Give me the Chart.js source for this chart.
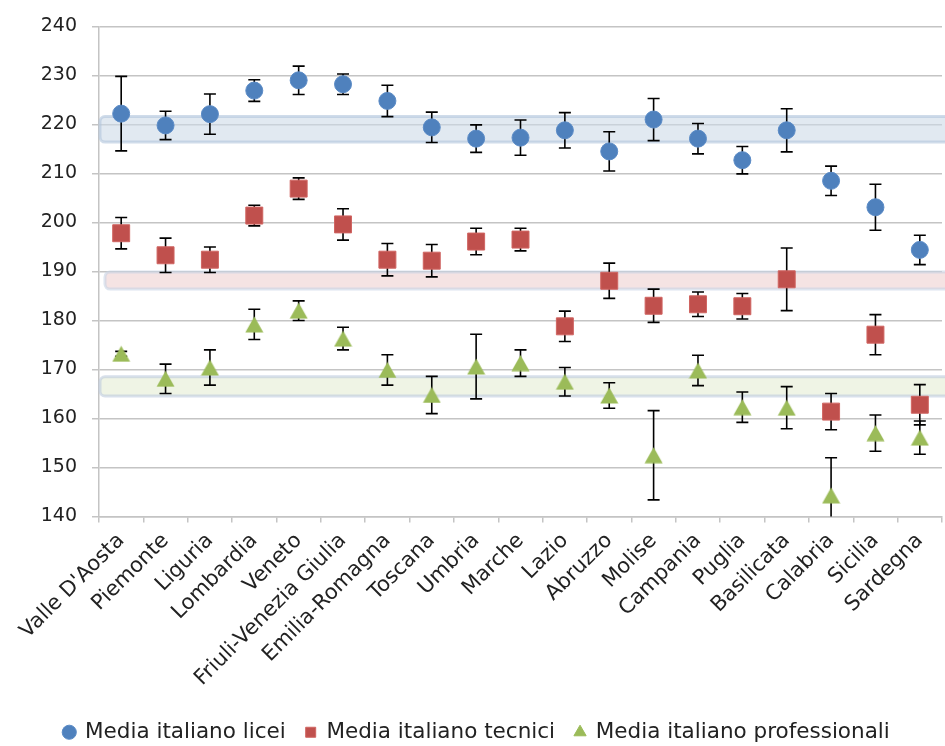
<!DOCTYPE html>
<html>
<head>
<meta charset="utf-8">
<script src="https://cdn.jsdelivr.net/npm/chart.js@4.4.1/dist/chart.umd.min.js"></script>
<style>
  html, body { margin: 0; padding: 0; background: #fff; overflow: hidden; width: 945px; height: 746px; }
  #wrap { width: 955px; height: 746px; }
</style>
</head>
<body>
<div id="wrap"><canvas id="chart" width="955" height="746"></canvas></div>
<script>
// categories
var regioni = ["Valle D'Aosta", "Piemonte", "Liguria", "Lombardia", "Veneto", "Friuli-Venezia Giulia",
  "Emilia-Romagna", "Toscana", "Umbria", "Marche", "Lazio", "Abruzzo", "Molise", "Campania",
  "Puglia", "Basilicata", "Calabria", "Sicilia", "Sardegna"];

// series values and error (+/-)
var licei = [222.2, 219.8, 222.1, 226.9, 229.0, 228.2, 224.8, 219.4, 217.1, 217.3, 218.8, 214.5, 221.0, 217.1, 212.7, 218.8, 208.5, 203.1, 194.4];
var liceiErr = [7.6, 2.9, 4.1, 2.2, 2.9, 2.1, 3.2, 3.1, 2.8, 3.6, 3.6, 4.0, 4.3, 3.1, 2.8, 4.4, 3.0, 4.7, 3.0];

var tecnici = [197.8, 193.3, 192.4, 201.4, 206.9, 199.6, 192.4, 192.2, 196.1, 196.5, 178.8, 188.1, 183.0, 183.3, 182.9, 188.4, 161.4, 177.1, 162.8];
var tecniciErr = [3.2, 3.5, 2.6, 2.1, 2.2, 3.2, 3.3, 3.3, 2.7, 2.3, 3.1, 3.6, 3.4, 2.5, 2.6, 6.4, 3.7, 4.1, 4.1];

var professionali = [173.2, 168.1, 170.4, 179.2, 182.0, 176.3, 169.9, 164.8, 170.6, 171.3, 167.5, 164.7, 152.5, 169.8, 162.3, 162.2, 144.3, 157.0, 156.1];
var professionaliErr = [0.5, 3.0, 3.6, 3.1, 2.0, 2.3, 3.1, 3.8, 6.6, 2.7, 2.9, 2.6, 9.1, 3.1, 3.1, 4.3, 7.7, 3.7, 3.4];

// national averages shown as shaded bands (low, high)
var bandLow = [216.4, 186.4, 164.6];
var bandHigh = [221.6, 189.9, 168.5];

// y axis ticks
var yMin = 140, yMax = 240, yStep = 10;

var bandStyles = [
  { fill: "rgba(205,218,232,0.6)", border: "rgba(176,196,220,0.6)", startX: 1 },
  { fill: "rgba(242,220,220,0.8)", border: "rgba(200,212,228,0.6)", startX: 6 },
  { fill: "rgba(235,241,222,0.8)", border: "rgba(190,204,222,0.6)", startX: 1 }
];

var errorMap = [liceiErr, tecniciErr, professionaliErr];

// triangle marker centred on its box (like the spreadsheet marker)
var tri = document.createElement("canvas");
tri.width = 19;
tri.height = 17;
(function () {
	var c = tri.getContext("2d");
	c.beginPath();
	c.moveTo(9.5, 0.5);
	c.lineTo(18.5, 16.5);
	c.lineTo(0.5, 16.5);
	c.closePath();
	c.fillStyle = "#9BBB59";
	c.fill();
})();

var decorPlugin = {
	id: "decor",
	beforeDatasetsDraw: function (chart) {
		var ctx = chart.ctx;
		var area = chart.chartArea;
		var ys = chart.scales.y;

		// bands
		ctx.save();
		for (var b = 0; b < bandLow.length; b++) {
			var st = bandStyles[b];
			var top = ys.getPixelForValue(bandHigh[b]);
			var bot = ys.getPixelForValue(bandLow[b]);
			ctx.beginPath();
			ctx.roundRect(area.left + st.startX, top, chart.width + 20, bot - top, 5);
			ctx.fillStyle = st.fill;
			ctx.fill();
			ctx.lineWidth = 3;
			ctx.strokeStyle = st.border;
			ctx.stroke();
		}
		ctx.restore();

		// error bars
		ctx.save();
		ctx.beginPath();
		ctx.rect(area.left, area.top - 2, area.right - area.left, area.bottom - area.top + 2);
		ctx.clip();
		ctx.strokeStyle = "#000";
		ctx.lineWidth = 1.6;
		chart.data.datasets.forEach(function (ds, di) {
			var meta = chart.getDatasetMeta(di);
			var errs = errorMap[di];
			meta.data.forEach(function (pt, i) {
				var v = ds.data[i];
				var yHi = ys.getPixelForValue(v + errs[i]);
				var yLo = ys.getPixelForValue(v - errs[i]);
				var x = pt.x;
				ctx.beginPath();
				ctx.moveTo(x, yHi);
				ctx.lineTo(x, yLo);
				ctx.moveTo(x - 6, yHi);
				ctx.lineTo(x + 6, yHi);
				ctx.moveTo(x - 6, yLo);
				ctx.lineTo(x + 6, yLo);
				ctx.stroke();
			});
		});
		ctx.restore();
	}
};

var ctx = document.getElementById("chart");

var data = {
	labels: regioni,
	datasets: [{
			label: "Media italiano licei",
			data: licei,
			backgroundColor: "#4F81BD",
			borderColor: "#5B8BC6",
			pointStyle: "circle",
			pointRadius: 8.5,
			pointHoverRadius: 8.5,
			pointBorderWidth: 1,
			showLine: false
		},
		{
			label: "Media italiano tecnici",
			data: tecnici,
			backgroundColor: "#C0504D",
			borderColor: "#D06562",
			pointStyle: "rect",
			pointRadius: 12,
			pointHoverRadius: 12,
			pointBorderWidth: 1,
			showLine: false
		},
		{
			label: "Media italiano professionali",
			data: professionali,
			backgroundColor: "#9BBB59",
			borderColor: "#9BBB59",
			pointStyle: tri,
			pointRadius: 10,
			pointHoverRadius: 10,
			pointBorderWidth: 1,
			showLine: false
		}
	]
};

var options = {
	responsive: false,
	animation: false,
	events: [],
	layout: {
		padding: { top: 14, right: 1, left: 0, bottom: -7 }
	},
	plugins: {
		tooltip: { enabled: false },
		legend: {
			display: true,
			position: "bottom",
			labels: {
				usePointStyle: true,
				boxHeight: 10,
				boxWidth: 10,
				padding: 20,
				color: "#222",
				font: { family: "DejaVu Sans", size: 21.5 },
				generateLabels: function (chart) {
					var items = Chart.defaults.plugins.legend.labels.generateLabels(chart);
					items.forEach(function (it) {
						if (typeof it.pointStyle !== "string") it.pointStyle = "triangle";
					});
					return items;
				}
			}
		}
	},
	scales: {
		x: {
			offset: true,
			grid: {
				offset: true,
				drawOnChartArea: false,
				drawTicks: true,
				tickLength: 6,
				color: "#c4c4c4",
				lineWidth: 1.5
			},
			border: { display: true, color: "#c4c4c4", width: 1.5 },
			ticks: {
				autoSkip: false,
				maxRotation: 45,
				minRotation: 45,
				padding: 6,
				color: "#222",
				font: { family: "DejaVu Sans", size: 21 }
			},
			afterFit: function (scale) { scale.height = 185; }
		},
		y: {
			min: yMin,
			max: yMax,
			grid: {
				color: "#c4c4c4",
				lineWidth: 1.5,
				drawTicks: true,
				tickLength: 7
			},
			border: { display: true, color: "#c4c4c4", width: 1.5 },
			ticks: {
				stepSize: yStep,
				padding: 15,
				color: "#222",
				font: { family: "DejaVu Sans", size: 19 }
			},
			afterFit: function (scale) { scale.width = 99; }
		}
	}
};

var chart = new Chart(ctx, {
	type: "line",
	data: data,
	options: options,
	plugins: [decorPlugin]
});
</script>
</body>
</html>
